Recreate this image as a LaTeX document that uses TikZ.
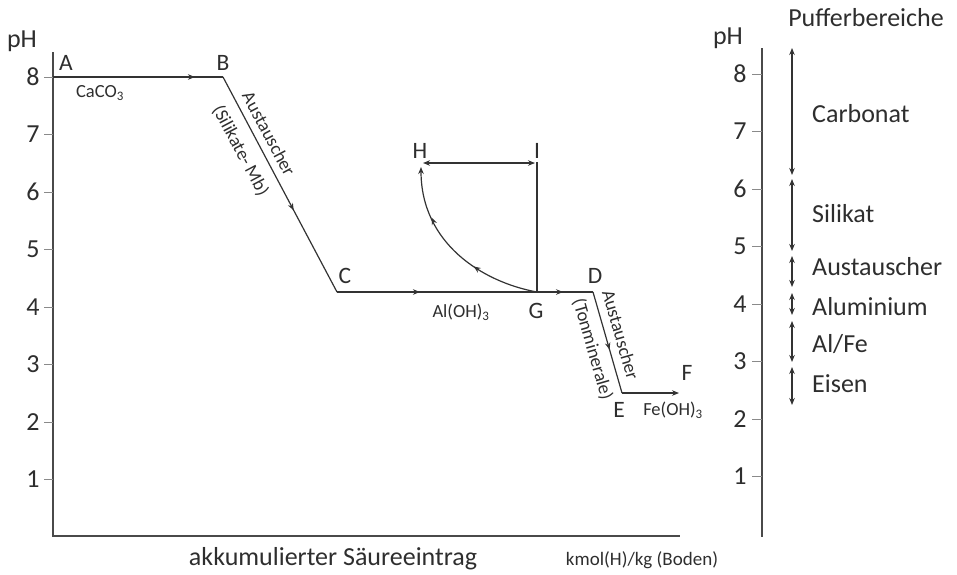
\documentclass[tikz,border=0pt]{standalone}
\usepackage{fontspec}
\setmainfont{Carlito}
\usetikzlibrary{arrows.meta,decorations.markings}

\definecolor{axisgray}{HTML}{4A4A4A}
\definecolor{tickgray}{HTML}{8A8A8A}
\definecolor{linegray}{HTML}{333333}
\definecolor{textgray}{HTML}{2E2E2E}

\tikzset{
  >={Stealth[length=7pt,width=5.5pt]},
  axisline/.style={draw=axisgray, line width=1.4pt},
  tickline/.style={draw=tickgray, line width=1pt},
  curve/.style={draw=linegray, line width=1.2pt},
  midarrow/.style={postaction={decorate},
    decoration={markings, mark=at position #1 with {\arrow{>}}}},
  ticklabel/.style={text=textgray, inner sep=0pt, font=\fontsize{26}{30}\selectfont},
  ptlabel/.style={text=textgray, inner sep=0pt, anchor=base, font=\fontsize{23.5}{28}\selectfont},
  chemlabel/.style={text=textgray, inner sep=0pt, font=\fontsize{18.5}{22}\selectfont},
  slopelabel/.style={text=textgray, inner sep=0pt, font=\fontsize{18.5}{22}\selectfont},
  biglabel/.style={text=textgray, inner sep=0pt, font=\fontsize{26}{30}\selectfont},
  bufferlabel/.style={text=textgray, inner sep=0pt, anchor=base west, font=\fontsize{26}{30}\selectfont},
}

\begin{document}
\begin{tikzpicture}[x=1pt,y=-1pt]
\useasboundingbox (0,0) rectangle (957,574);

% ---------- left diagram: axes ----------
\coordinate (ytop) at (53,52);
\coordinate (origin) at (53,536);
\coordinate (xend) at (680,536);
\draw[axisline] (ytop) -- (origin) -- (xend);
\foreach \p in {1,...,8} {
  \draw[tickline] (44,{537-57.5*\p}) -- (53,{537-57.5*\p});
  \node[ticklabel] (ltick\p) at (33,{537-57.5*\p}) {\p};
}
\node[biglabel] (lph) at (22,41) {pH};
\node[biglabel, anchor=base] (xlabel) at (333,565) {akkumulierter Säureeintrag};
\node[chemlabel, anchor=base, font=\fontsize{19}{22}\selectfont] (unit) at (642,565) {kmol(H)/kg (Boden)};

% ---------- titration path ----------
\coordinate (A) at (53,77);
\coordinate (B) at (223,77);
\coordinate (C) at (337,292);
\coordinate (G) at (537,292);
\coordinate (D) at (593,292);
\coordinate (E) at (622,393);
\coordinate (F) at (679,393);
\coordinate (I) at (537,162);
\coordinate (Harr) at (423,163);
\coordinate (Iarr) at (535,163);
\coordinate (H) at (421,167);

\draw[curve, midarrow=0.835] (A) -- (B);
\draw[curve, midarrow=0.62] (B) -- (C);
\draw[curve, postaction={decorate},
  decoration={markings,
    mark=at position 0.324 with {\arrow{>}},
    mark=at position 0.883 with {\arrow{>}}}] (C) -- (D);
\draw[curve, midarrow=0.57] (D) -- (E);
\draw[curve, ->] (E) -- (F);
\draw[curve] (G) -- (I);
\draw[curve, <->] (Harr) -- (Iarr);
\draw[curve, ->, postaction={decorate},
  decoration={markings,
    mark=at position 0.37 with {\arrow{>}},
    mark=at position 0.72 with {\arrow{>}}}]
  (G) .. controls (482,282) and (421,243) .. (H);

% point letters
\node[ptlabel] (lA) at (66,70) {A};
\node[ptlabel] (lB) at (223,70) {B};
\node[ptlabel] (lC) at (345,283) {C};
\node[ptlabel] (lD) at (595,283) {D};
\node[ptlabel] (lG) at (536,318) {G};
\node[ptlabel] (lH) at (420,158) {H};
\node[ptlabel] (lI) at (537,158) {I};
\node[ptlabel] (lE) at (619,417) {E};
\node[ptlabel] (lF) at (687,380) {F};

% buffer substances along the path
\node[chemlabel] (caco) at (100,93) {CaCO\textsubscript{3}};
\node[chemlabel] (aloh) at (461,312) {Al(OH)\textsubscript{3}};
\node[chemlabel] (feoh) at (673,410) {Fe(OH)\textsubscript{3}};
\node[slopelabel, rotate=-62] (aust1) at (269,133.8) {Austauscher};
\node[slopelabel, rotate=-62] (sil) at (240.5,150.7) {(Silikate- Mb)};
\node[slopelabel, rotate=-74] (aust2) at (620.7,334.8) {Austauscher};
\node[slopelabel, rotate=-74] (ton) at (592.6,349.3) {(Tonminerale)};

% ---------- right scale: buffer ranges ----------
\coordinate (rtop) at (762,48);
\coordinate (rbot) at (762,537);
\draw[axisline] (rtop) -- (rbot);
\foreach \p in {1,...,8} {
  \draw[tickline] (752,{534-57.5*\p}) -- (762,{534-57.5*\p});
  \node[ticklabel] (rtick\p) at (740,{534-57.5*\p}) {\p};
}
\node[biglabel] (rph) at (728,38) {pH};
\node[biglabel] (title) at (866,18) {Pufferbereiche};

\foreach \n/\a/\b in {carb/48/175, sili/179/251, aust/256/287, alum/293/315, alfe/321/362, eisen/367/405} {
  \coordinate (\n top) at (792,\a);
  \coordinate (\n bot) at (792,\b);
  \draw[curve, <->] (\n top) -- (\n bot);
}
\node[bufferlabel] (tcarb) at (812,122) {Carbonat};
\node[bufferlabel] (tsili) at (812,222) {Silikat};
\node[bufferlabel] (taust) at (812,275) {Austauscher};
\node[bufferlabel] (talum) at (812,315) {Aluminium};
\node[bufferlabel] (talfe) at (812,352) {Al/Fe};
\node[bufferlabel] (teisen) at (812,392) {Eisen};
\end{tikzpicture}
\end{document}
